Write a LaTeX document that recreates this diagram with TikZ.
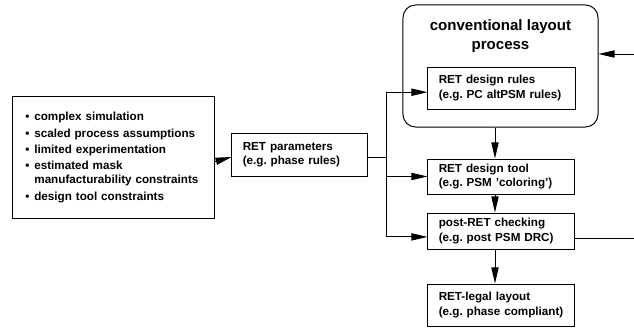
\documentclass[tikz,border=0pt]{standalone}
\usepackage{fontspec}
\setmainfont{Liberation Sans}
\usetikzlibrary{arrows.meta,positioning}
\frenchspacing
\hyphenpenalty=10000
\tikzset{
  >={Triangle[length=4mm,width=1.8mm]},
  box/.style={draw,line width=0.7pt,align=left,inner xsep=2.7mm,inner ysep=0pt,
    font=\fontsize{8.3}{10}\selectfont\bfseries},
  group/.style={draw,line width=0.7pt,rounded corners=9pt},
  title/.style={align=center,font=\fontsize{10.7}{13.5}\selectfont\bfseries},
  flow/.style={->,line width=0.7pt},
  link/.style={line width=0.7pt},
}
\newcommand{\bul}{\makebox[6.4pt][l]{\textbullet}}
\newcommand{\cont}{\hspace*{6.4pt}}

\begin{document}
\begin{tikzpicture}[x=0.025cm,y=-0.025cm]
  \useasboundingbox (0,0) rectangle (634,328);
  % boxes
  \node[box,inner xsep=3.1mm,text width=4.405cm,minimum height=3.025cm] (inputs) at (113.5,157.5)
    {\bul complex simulation\\[1.7pt]
     \bul scaled process assumptions\\[1.7pt]
     \bul limited experimentation\\[1.7pt]
     \bul estimated mask\\
     \cont manufacturability constraints\\[1.7pt]
     \bul design tool constraints};
  \node[box,text width=2.835cm,minimum height=1.075cm] (params) at (299.5,154.5)
    {RET parameters\\(e.g. phase rules)};
  \node[group,minimum width=4.875cm,minimum height=3.05cm] (conv) at (500.5,66) {};
  \node[title] (convtitle) at (500.5,36) {conventional layout\\process};
  \node[box,text width=3.135cm,minimum height=1.05cm] (rules) at (501.5,88)
    {RET design rules\\(e.g. PC altPSM rules)};
  \node[box,text width=3.11cm,minimum height=0.875cm] (tool) at (501,176.5)
    {RET design tool\\(e.g. PSM 'coloring')};
  \node[box,text width=3.11cm,minimum height=0.9cm] (check) at (501,231)
    {post-RET checking\\(e.g. post PSM DRC)};
  \node[box,text width=3.11cm,minimum height=1.05cm] (legal) at (501,305)
    {RET-legal layout\\(e.g.~phase~compliant)};
  % connectors
  \coordinate (spine) at (386,0);
  \coordinate (axis) at (495,0);
  \coordinate (fbin) at (634,54);
  \coordinate (fbout) at (634,238);
  \draw[flow] ([yshift=-3pt]inputs.east) -- ([yshift=-1.8pt]params.west);
  \draw[link] ([yshift=-1.8pt]params.east) -- ([yshift=-1.8pt]params.east -| spine);
  \draw[flow] ([yshift=-1.8pt]params.east -| spine) |- ([yshift=-3pt]rules.west);
  \draw[flow] ([yshift=-1.8pt]params.east -| spine) |- (tool.west);
  \draw[flow] ([yshift=-1.8pt]params.east -| spine) |- ([yshift=-4.2pt]check.west);
  \draw[flow] (fbin) -- (fbin -| conv.east);
  \draw[link] (check.east |- fbout) -- (fbout);
  \draw[flow] (conv.south -| axis) -- (tool.north -| axis);
  \draw[flow] (tool.south -| axis) -- (check.north -| axis);
  \draw[flow] (check.south -| axis) -- (legal.north -| axis);
\end{tikzpicture}
\end{document}
